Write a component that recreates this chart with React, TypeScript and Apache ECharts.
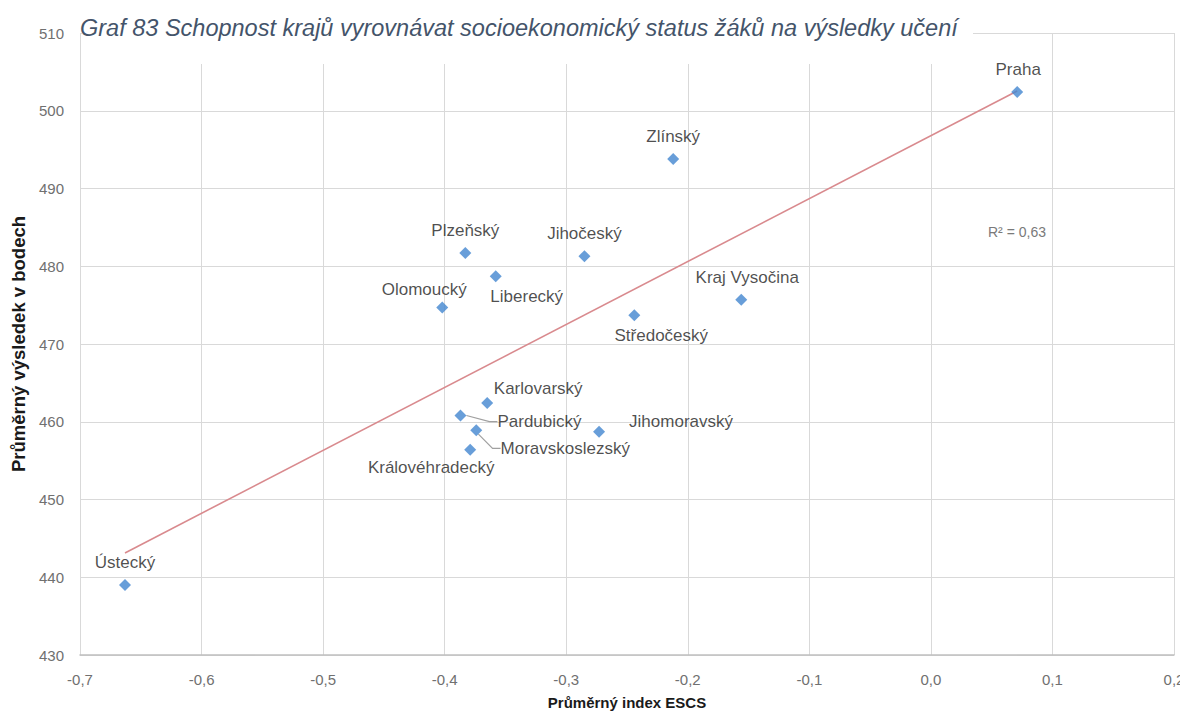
import React, { useEffect, useRef } from 'react';
import * as echarts from 'echarts';

// ---- data ----
const regions = [
  'Praha', 'Zlínský', 'Plzeňský', 'Jihočeský', 'Liberecký', 'Olomoucký', 'Kraj Vysočina',
  'Středočeský', 'Karlovarský', 'Pardubický', 'Moravskoslezský', 'Královéhradecký', 'Jihomoravský', 'Ústecký',
];
const escs = [0.071, -0.212, -0.383, -0.285, -0.358, -0.402, -0.156, -0.244, -0.365, -0.387, -0.374, -0.379, -0.273, -0.663];
const score = [502.4, 493.8, 481.7, 481.3, 478.7, 474.7, 475.7, 473.7, 462.4, 460.8, 458.9, 456.4, 458.7, 439.0];

const xMinTick = -0.7;
const xMaxTick = 0.2;
const xStep = 0.1;
const yMinTick = 430;
const yMaxTick = 510;
const yStep = 10;

const titleText = 'Graf 83 Schopnost krajů vyrovnávat socioekonomický status žáků na výsledky učení';
const xAxisTitle = 'Průměrný index ESCS';
const yAxisTitle = 'Průměrný výsledek v bodech';

// ---- label placement (pixel offsets of label centre from marker centre) ----
const labelOffsets: [number, number][] = [
  [1, -23], [0, -22], [0, -23], [0, -23], [31, 20], [-18, -18], [6, -22],
  [27, 20], [51, -15], [79, 6], [89, 18], [-39, 18], [82, -10], [0, -23],
];
const withLeader = [false, false, false, false, false, false, false, false, false, true, true, false, false, false];

function regression(xs: number[], ys: number[]) {
  const n = xs.length;
  const mx = xs.reduce((s, v) => s + v, 0) / n;
  const my = ys.reduce((s, v) => s + v, 0) / n;
  let sxy = 0, sxx = 0, syy = 0;
  for (let i = 0; i < n; i++) {
    sxy += (xs[i] - mx) * (ys[i] - my);
    sxx += (xs[i] - mx) ** 2;
    syy += (ys[i] - my) ** 2;
  }
  const b = sxy / sxx;
  const a = my - b * mx;
  return { a, b, r2: (sxy * sxy) / (sxx * syy) };
}

export default function App() {
  const ref = useRef<HTMLDivElement>(null);
  useEffect(() => {
    document.body.style.margin = '0';
    const chart = echarts.init(ref.current!, null, { renderer: 'svg' });
    const { a, b, r2 } = regression(escs, score);
    const lo = Math.min(...escs);
    const hi = Math.max(...escs);
    const fmtX = (v: number) => (Math.round(v * 10) / 10).toFixed(1).replace('.', ',');
    const labelFont = "'Liberation Sans', Arial, sans-serif";
    const tickFont = "'Liberation Sans', Arial, sans-serif";

    chart.setOption({
      animation: false,
      backgroundColor: '#ffffff',
      grid: { left: 80, right: 6, top: 33, bottom: 60, containLabel: false, outerBoundsMode: 'none' },
      xAxis: {
        type: 'value',
        min: xMinTick,
        max: xMaxTick,
        interval: xStep,
        name: xAxisTitle,
        nameLocation: 'middle',
        nameGap: 40,
        nameTextStyle: { fontSize: 15, fontWeight: 'bold', color: '#1a1a1a', fontFamily: labelFont },
        axisLine: { show: true, lineStyle: { color: '#bfbfbf', width: 1.5 } },
        axisTick: { show: false },
        axisLabel: { formatter: fmtX, color: '#707070', fontSize: 15, margin: 17, fontFamily: tickFont },
        splitLine: { show: true, lineStyle: { color: '#d9d9d9', width: 1 } },
      },
      yAxis: {
        type: 'value',
        min: yMinTick,
        max: yMaxTick,
        interval: yStep,
        name: yAxisTitle,
        nameLocation: 'middle',
        nameGap: 50,
        nameTextStyle: { fontSize: 18.5, fontWeight: 'bold', color: '#1a1a1a', fontFamily: labelFont },
        axisLine: { show: false },
        axisTick: { show: false },
        axisLabel: { color: '#707070', fontSize: 15, margin: 16, fontFamily: tickFont },
        splitLine: { show: true, lineStyle: { color: '#d9d9d9', width: 1 } },
      },
      series: [
        {
          type: 'line',
          data: [[lo, a + b * lo], [hi, a + b * hi]],
          showSymbol: false,
          symbol: 'none',
          silent: true,
          z: 2,
          lineStyle: { color: '#d98a8e', width: 1.6 },
        },
        {
          type: 'scatter',
          symbol: 'diamond',
          symbolSize: 12,
          z: 3,
          itemStyle: { color: '#4286cf' },
          data: regions.map((name, i) => ({
            name,
            value: [escs[i], score[i]],
            labelLine: withLeader[i]
              ? { show: true, length2: 8, lineStyle: { color: '#a0a0a0', width: 1.2 } }
              : { show: false },
          })),
          label: {
            show: true,
            position: 'inside',
            formatter: '{b}',
            color: '#1f1f1f',
            fontSize: 17,
            fontFamily: labelFont,
            textBorderWidth: 0,
          },
          labelLayout: (params: any) => ({
            dx: labelOffsets[params.dataIndex][0],
            dy: labelOffsets[params.dataIndex][1],
          }),
        },
      ],
      graphic: [
        {
          type: 'rect',
          left: 82,
          top: 0,
          shape: { width: 891, height: 64 },
          style: { fill: '#ffffff' },
          z: 100,
        },
        {
          type: 'text',
          left: 80,
          top: 16,
          z: 101,
          style: {
            text: titleText,
            fill: '#44546a',
            font: "italic 23.5px 'Liberation Sans', Arial, sans-serif",
          },
        },
        {
          type: 'text',
          left: 988,
          top: 225,
          z: 101,
          style: {
            text: 'R² = ' + r2.toFixed(2).replace('.', ','),
            fill: '#7a7a7a',
            font: "14px 'Liberation Sans', Arial, sans-serif",
          },
        },
      ],
    });
    return () => chart.dispose();
  }, []);
  return <div ref={ref} style={{ width: 1180, height: 715 }} />;
}
